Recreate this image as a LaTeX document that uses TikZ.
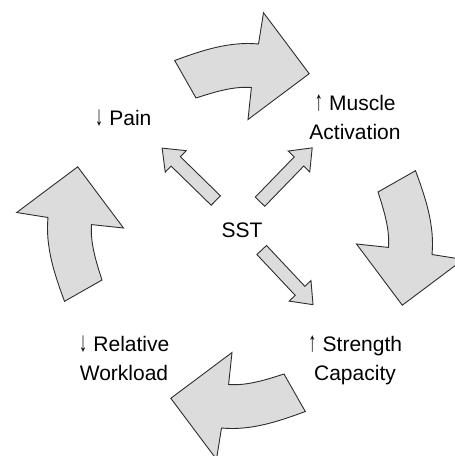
\documentclass[tikz,border=0pt]{standalone}
\usepackage{fontspec}
\setmainfont{Liberation Sans}
\definecolor{arrowfill}{RGB}{220,220,220}
\definecolor{arrowline}{RGB}{45,45,45}
\newcommand\arrUp{\makebox[9pt]{\raisebox{-1.5pt}{\resizebox{8pt}{16.5pt}{\raisebox{\depth}{↑}}}}}
\newcommand\arrDn{\makebox[9pt]{\raisebox{-1.5pt}{\resizebox{8pt}{16.5pt}{\raisebox{\depth}{↓}}}}}
\tikzset{
  blockarrow/.style={fill=arrowfill, draw=arrowline, line width=0.9pt, line join=miter},
  lbl/.style={font=\fontsize{21}{29}\selectfont, inner sep=0pt, anchor=base},
  bigarrow/.pic={\path[blockarrow] (-65.3,-175.5) -- (-44,-138)
      .. controls (-26.3,-143.7) and (-7.1,-149.9) .. (11.4,-148.5)
      -- (8,-116.5) -- (69.2,-162.3) -- (23.5,-223.3) -- (18.5,-192)
      .. controls (-10.3,-194.8) and (-38.2,-185.6) .. (-65.3,-175.5) -- cycle;},
  smallarrow/.pic={\path[blockarrow] (0,-6.6) -- (56,-6.6) -- (56,-15) -- (75,0)
      -- (56,15) -- (56,6.6) -- (0,6.6) -- cycle;}
}
\begin{document}
\begin{tikzpicture}[x=1pt,y=-1pt]
\useasboundingbox (0,0) rectangle (455,456);
\clip (0,0) rectangle (455,456);
% big cycle arrows
\pic at (240,236) {bigarrow};
\pic[rotate=-90] at (240,236) {bigarrow};
\pic[rotate=-180] at (240,236) {bigarrow};
\pic[rotate=-270] at (240,236) {bigarrow};
% small arrows from SST
\pic[rotate=135.7] at (215.8,200.5) {smallarrow};
\pic[rotate=45.9] at (260,201.7) {smallarrow};
\pic[rotate=-46.8] at (261.7,250) {smallarrow};
% labels
\node[lbl] (pain) at (123,125) {\arrDn{} Pain};
\node[lbl] (muscle) at (355,110) {\begin{tabular}[t]{@{}c@{}}\arrUp{} Muscle\\Activation\end{tabular}};
\node[lbl] (sst) at (242,237) {SST};
\node[lbl] (strength) at (355,351) {\begin{tabular}[t]{@{}c@{}}\arrUp{} Strength\\Capacity\end{tabular}};
\node[lbl] (workload) at (124,351) {\begin{tabular}[t]{@{}c@{}}\arrDn{} Relative\\Workload\end{tabular}};
\end{tikzpicture}
\end{document}
